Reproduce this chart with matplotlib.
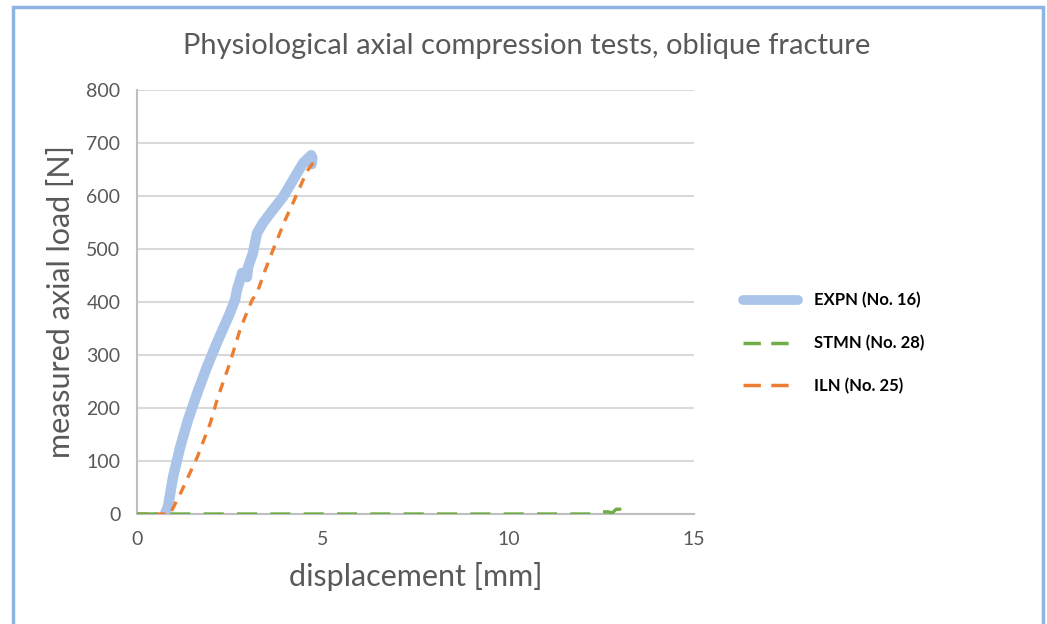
import matplotlib.pyplot as plt
from matplotlib.patches import Rectangle
from matplotlib.lines import Line2D

plt.rcParams['font.family'] = ['Lato', 'DejaVu Sans']

# EXPN (No. 16)
expn_x = [0.75, 0.83, 0.97, 1.16, 1.37, 1.62, 1.88, 2.15, 2.42, 2.5, 2.64, 2.69, 2.83, 2.96,
          2.99, 3.12, 3.23, 3.39, 3.66, 3.93, 4.2, 4.47, 4.69, 4.72, 4.7]
expn_y = [0, 13, 70, 126, 177, 228, 277, 323, 366, 379, 404, 423, 455, 447,
          466, 492, 530, 549, 574, 598, 630, 662, 677, 672, 660]
# STMN (No. 28)
stmn_x = [0, 2, 4, 6, 8, 10, 12.4, 12.47, 12.69, 12.8, 12.9, 13.2]
stmn_y = [0, 0, 0, 0, 0, 0, 0, 4, 4, 2, 9, 9]
# ILN (No. 25)
iln_x = [0, 0.5, 0.89, 1.21, 1.62, 1.97, 2.18, 2.5, 2.77, 2.91, 3.1, 3.23, 3.45, 3.66,
         3.99, 4.2, 4.47, 4.6, 4.8, 4.82]
iln_y = [0, 0, 0, 45, 107, 171, 221, 285, 347, 372, 404, 417, 460, 498,
         555, 587, 630, 649, 668, 673]

labels = ['EXPN (No. 16)', 'STMN (No. 28)', 'ILN (No. 25)']
colors = ['#a9c4e8', '#70ad47', '#ed7d31']
grey = '#595959'

fig = plt.figure(figsize=(10.47, 6.24), dpi=100)
ax = fig.add_axes([0.1309, 0.1763, 0.532, 0.6795])

ax.plot(iln_x, iln_y, color=colors[2], lw=2.4, ls=(0, (3, 2.5)), zorder=3)
ax.plot(stmn_x, stmn_y, color=colors[1], lw=2.4, ls=(0, (6, 4)), zorder=4)
ax.plot(expn_x, expn_y, color=colors[0], lw=7.5, solid_capstyle='round', zorder=2)

ax.set_xlim(0, 15)
ax.set_ylim(0, 800)
ax.set_xticks([0, 5, 10, 15])
ax.set_yticks(range(0, 801, 100))
ax.grid(axis='y', color='#d9d9d9', lw=1.5)
ax.set_axisbelow(True)
for s in ['top', 'right']:
    ax.spines[s].set_visible(False)
ax.spines['left'].set_color('#bfbfbf')
ax.spines['bottom'].set_color('#bfbfbf')
ax.spines['left'].set_linewidth(1.5)
ax.spines['bottom'].set_linewidth(1.5)
ax.tick_params(length=0, labelsize=14, colors=grey, pad=12)

ax.set_xlabel('displacement [mm]', fontsize=22, color=grey, labelpad=10)
ax.set_ylabel('measured axial load [N]', fontsize=22, color=grey, labelpad=8)
fig.text(0.503, 0.926, 'Physiological axial compression tests, oblique fracture',
         ha='center', va='center', fontsize=21, color=grey)

handles = [Line2D([], [], color=colors[0], lw=7, solid_capstyle='round'),
           Line2D([], [], color=colors[1], lw=2.5, ls=(0, (5, 3))),
           Line2D([], [], color=colors[2], lw=2.5, ls=(0, (5, 3)))]
fig.legend(handles, labels, loc='center left', bbox_to_anchor=(0.695, 0.45),
           frameon=False, prop={'weight': 'bold', 'size': 12}, handlelength=3.3,
           handletextpad=1.0, labelspacing=1.6, labelcolor='black')

fig.patches.append(Rectangle((13 / 1047, -0.02), 1030 / 1047, 1.02 - 7 / 624,
                             transform=fig.transFigure, fill=False,
                             edgecolor='#8eb4e3', lw=2.5))

fig.savefig('out.png', dpi=100)
